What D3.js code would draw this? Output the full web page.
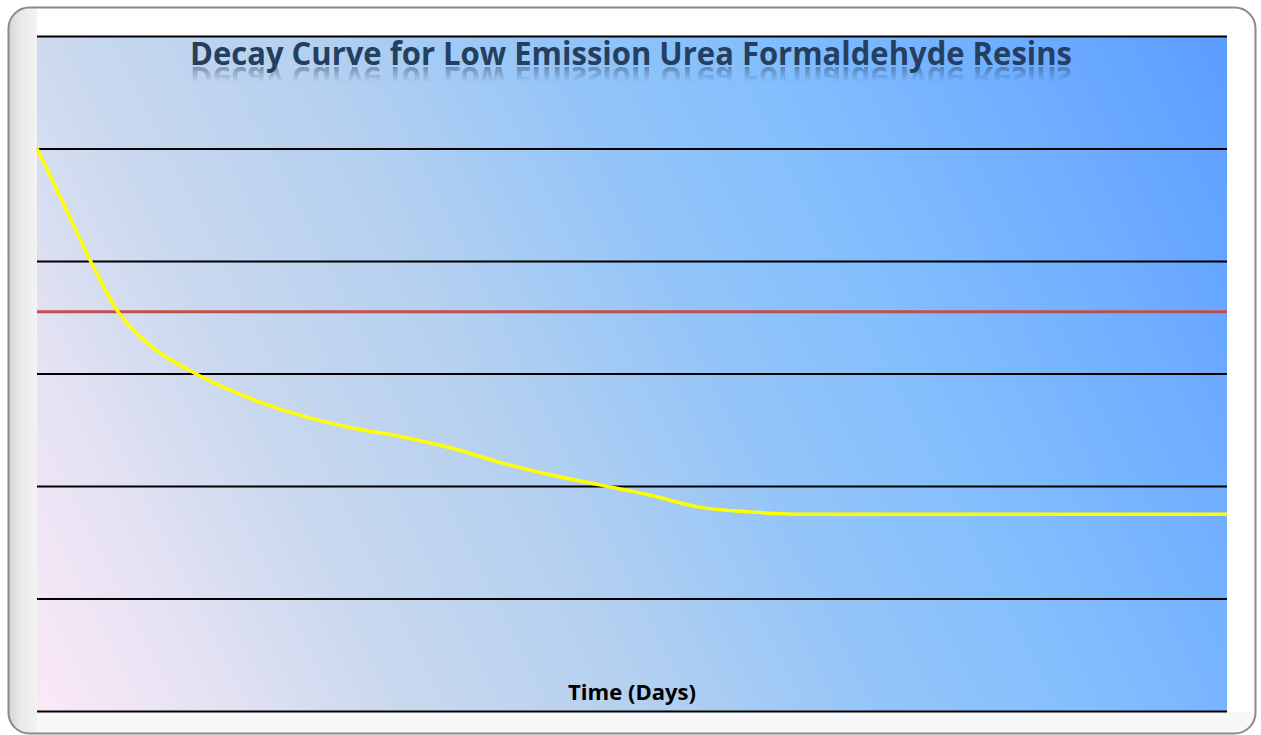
<!DOCTYPE html>
<html>
<head>
<meta charset="utf-8">
<script src="https://cdn.jsdelivr.net/npm/d3@7"></script>
<style>
html,body{margin:0;padding:0;background:#fff;overflow:hidden;}
svg{display:block;}
</style>
</head>
<body>
<svg id="chart" width="1261" height="735" xmlns:xlink="http://www.w3.org/1999/xlink"></svg>
<script>
// ---- data ----
const title = "Decay Curve for Low Emission Urea Formaldehyde Resins";
const xLabel = "Time (Days)";
const days = [0, 2.4, 4.5, 6.8, 9.5, 13.3, 17.9, 22.1, 26.3, 30.5, 34.7, 38.9, 43.1, 47.3, 51.5, 55.7, 59.9, 64.1, 72.5, 80.9, 100];
const emission = [5.0, 4.47, 4.0, 3.55, 3.25, 3.0, 2.78, 2.63, 2.52, 2.44, 2.34, 2.21, 2.10, 2.01, 1.92, 1.81, 1.77, 1.75, 1.75, 1.75, 1.75];
const limitValue = 3.55;
const yTicks = [0, 1, 2, 3, 4, 5, 6];
const xDomain = [0, 100];
const yDomain = [0, 6];

const svg = d3.select("#chart");
const plot = {left: 37, right: 1227, top: 36, bottom: 711};

const defs = svg.append("defs");
const bg = defs.append("linearGradient").attr("id", "bgGrad")
  .attr("gradientUnits", "userSpaceOnUse")
  .attr("x1", 37).attr("y1", 711).attr("x2", 1258).attr("y2", 100);
bg.append("stop").attr("offset", "0%").attr("stop-color", "#fbe8f7");
bg.append("stop").attr("offset", "12%").attr("stop-color", "#e4e2f3");
bg.append("stop").attr("offset", "24%").attr("stop-color", "#c9d8ee");
bg.append("stop").attr("offset", "40%").attr("stop-color", "#b4d0f0");
bg.append("stop").attr("offset", "55%").attr("stop-color", "#95c5f8");
bg.append("stop").attr("offset", "68%").attr("stop-color", "#84bffd");
bg.append("stop").attr("offset", "85%").attr("stop-color", "#70aeff");
bg.append("stop").attr("offset", "100%").attr("stop-color", "#5c9cff");

const side = defs.append("linearGradient").attr("id", "sideGrad")
  .attr("x1", 0).attr("y1", 0).attr("x2", 1).attr("y2", 0);
side.append("stop").attr("offset", "0%").attr("stop-color", "#d6d6d6");
side.append("stop").attr("offset", "40%").attr("stop-color", "#e9e9e9");
side.append("stop").attr("offset", "100%").attr("stop-color", "#f3f3f3");

const refl = defs.append("linearGradient").attr("id", "reflGrad")
  .attr("x1", 0).attr("y1", 0).attr("x2", 0).attr("y2", 1);
refl.append("stop").attr("offset", "0%").attr("stop-color", "#fff").attr("stop-opacity", 0.5);
refl.append("stop").attr("offset", "100%").attr("stop-color", "#fff").attr("stop-opacity", 0);
const mask = defs.append("mask").attr("id", "reflMask")
  .attr("maskUnits", "userSpaceOnUse").attr("x", 0).attr("y", 0).attr("width", 1261).attr("height", 735)
  .attr("maskContentUnits", "userSpaceOnUse");
mask.append("rect").attr("x", 0).attr("y", 64).attr("width", 1261).attr("height", 18).attr("fill", "url(#reflGrad)");

const clip = defs.append("clipPath").attr("id", "frameClip");
clip.append("rect").attr("x", 9).attr("y", 8).attr("width", 1246).attr("height", 725).attr("rx", 20);

// frame
svg.append("rect").attr("x", 8.5).attr("y", 7.5).attr("width", 1247).attr("height", 726)
  .attr("rx", 21).attr("fill", "#fff");
const inner = svg.append("g").attr("clip-path", "url(#frameClip)");
inner.append("rect").attr("x", 9).attr("y", 8).attr("width", 28).attr("height", 726).attr("fill", "url(#sideGrad)");
inner.append("rect").attr("x", 9).attr("y", 712).attr("width", 1246).attr("height", 24).attr("fill", "#f7f7f7");
inner.append("rect").attr("x", 9).attr("y", 712).attr("width", 28).attr("height", 24).attr("fill", "url(#sideGrad)");
svg.append("rect").attr("x", 8.5).attr("y", 7.5).attr("width", 1247).attr("height", 726)
  .attr("rx", 21).attr("fill", "none").attr("stroke", "#8a8a8a").attr("stroke-width", 2);

// scales
const x = d3.scaleLinear().domain(xDomain).range([plot.left, plot.right]);
const y = d3.scaleLinear().domain(yDomain).range([plot.bottom, plot.top]);

// plot background
svg.append("rect").attr("x", plot.left).attr("y", plot.top)
  .attr("width", plot.right - plot.left).attr("height", plot.bottom - plot.top)
  .attr("fill", "url(#bgGrad)");

// gridlines via axis
const grid = svg.append("g").attr("transform", `translate(${plot.left},0)`)
  .call(d3.axisLeft(y).tickValues(yTicks).tickSize(-(plot.right - plot.left)).tickFormat(""));
grid.select(".domain").remove();
grid.selectAll(".tick line").attr("stroke", "#000").attr("stroke-width", 2);

// title + mirrored reflection (a <use> clone of the same text)
svg.append("text").attr("id", "titleText")
  .attr("x", 631).attr("y", 65)
  .attr("text-anchor", "middle")
  .attr("font-family", "'Open Sans', sans-serif").attr("font-weight", 700)
  .attr("font-size", 32).attr("fill", "#243f60")
  .attr("textLength", 882).attr("lengthAdjust", "spacingAndGlyphs")
  .text(title);
svg.append("g").attr("mask", "url(#reflMask)")
  .append("use").attr("href", "#titleText").attr("xlink:href", "#titleText")
  .attr("transform", "translate(0,132) scale(1,-1)");

// x label
svg.append("text").attr("x", 632).attr("y", 700).attr("text-anchor", "middle")
  .attr("font-family", "'Open Sans', sans-serif").attr("font-weight", 700)
  .attr("font-size", 21).attr("fill", "#000")
  .attr("textLength", 128).attr("lengthAdjust", "spacingAndGlyphs")
  .text(xLabel);

// limit line
svg.append("line").attr("x1", x(xDomain[0])).attr("x2", x(xDomain[1]))
  .attr("y1", y(limitValue)).attr("y2", y(limitValue))
  .attr("stroke", "#c0504d").attr("stroke-width", 3);

// decay curve
const pts = days.map((d, i) => [d, emission[i]]);
const line = d3.line().x(d => x(d[0])).y(d => y(d[1])).curve(d3.curveMonotoneX);
svg.append("path").datum(pts).attr("d", line)
  .attr("fill", "none").attr("stroke", "#ffff00").attr("stroke-width", 3.5);
</script>
</body>
</html>
